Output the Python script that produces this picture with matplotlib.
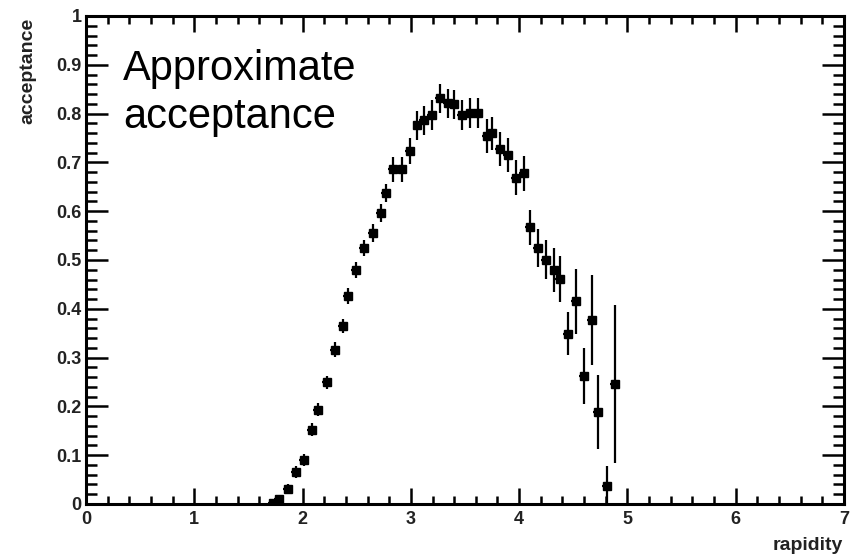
import matplotlib
matplotlib.use("Agg")
import matplotlib.pyplot as plt
from matplotlib.ticker import FixedLocator, MultipleLocator

plt.rcParams['font.family'] = ['Liberation Sans', 'DejaVu Sans']

# Data
rapidity = [1.729, 1.785, 1.868, 1.939, 2.016, 2.084, 2.145, 2.222, 2.299, 2.370,
            2.416, 2.493, 2.570, 2.647, 2.724, 2.770, 2.838, 2.915, 2.995, 3.061,
            3.118, 3.195, 3.269, 3.345, 3.401, 3.472, 3.549, 3.622, 3.706, 3.752,
            3.823, 3.899, 3.970, 4.044, 4.103, 4.171, 4.247, 4.326, 4.374, 4.453,
            4.524, 4.600, 4.672, 4.730, 4.807, 4.884]
acceptance = [0.002, 0.010, 0.030, 0.066, 0.090, 0.152, 0.193, 0.249, 0.316, 0.365,
              0.426, 0.480, 0.525, 0.555, 0.596, 0.637, 0.686, 0.686, 0.723, 0.776,
              0.786, 0.797, 0.831, 0.821, 0.819, 0.797, 0.801, 0.801, 0.754, 0.760,
              0.727, 0.715, 0.669, 0.678, 0.567, 0.525, 0.501, 0.480, 0.461, 0.349,
              0.415, 0.262, 0.377, 0.188, 0.037, 0.246]
acc_err = [0.005, 0.008, 0.010, 0.012, 0.012, 0.013, 0.013, 0.014, 0.015, 0.015,
           0.016, 0.016, 0.017, 0.018, 0.018, 0.019, 0.026, 0.026, 0.026, 0.030,
           0.030, 0.030, 0.029, 0.030, 0.030, 0.030, 0.030, 0.030, 0.034, 0.034,
           0.035, 0.035, 0.036, 0.036, 0.036, 0.039, 0.040, 0.045, 0.047, 0.044,
           0.066, 0.057, 0.092, 0.076, 0.040, 0.162]
bin_halfwidth = 0.045

x_ticks = [0, 1, 2, 3, 4, 5, 6, 7]
x_ticklabels = ["0", "1", "2", "3", "4", "5", "6", "7"]
y_ticks = [0, 0.1, 0.2, 0.3, 0.4, 0.5, 0.6, 0.7, 0.8, 0.9, 1.0]
y_ticklabels = ["0", "0.1", "0.2", "0.3", "0.4", "0.5", "0.6", "0.7", "0.8", "0.9", "1"]

W, H = 856, 557
fig = plt.figure(figsize=(W / 100, H / 100), dpi=100)
x0, x1, ytop, ybot = 86, 844, 16, 504
ax = fig.add_axes([x0 / W, 1 - ybot / H, (x1 - x0) / W, (ybot - ytop) / H])

ax.errorbar(rapidity, acceptance, yerr=acc_err, xerr=bin_halfwidth,
            fmt='s', color='black', ms=6, elinewidth=1.6, capsize=0, zorder=3)

ax.set_xlim(0, 7)
ax.set_ylim(0, 1)

ax.xaxis.set_major_locator(FixedLocator(x_ticks))
ax.set_xticklabels(x_ticklabels)
ax.yaxis.set_major_locator(FixedLocator(y_ticks))
ax.set_yticklabels(y_ticklabels)
ax.xaxis.set_minor_locator(MultipleLocator(0.2))
ax.yaxis.set_minor_locator(MultipleLocator(0.02))

for s in ax.spines.values():
    s.set_linewidth(2.2)

ax.tick_params(axis='x', which='major', direction='in', length=11.5, width=1.8,
               top=True, bottom=True, labelsize=13, pad=5)
ax.tick_params(axis='x', which='minor', direction='in', length=5.8, width=1.8,
               top=True, bottom=True)
ax.tick_params(axis='y', which='major', direction='in', length=15.8, width=1.8,
               left=True, right=True, labelsize=13, pad=3)
ax.tick_params(axis='y', which='minor', direction='in', length=7.9, width=1.8,
               left=True, right=True)
for lab in ax.get_xticklabels() + ax.get_yticklabels():
    lab.set_fontweight('bold')
    lab.set_color('#222222')

fig.text(123 / W, 1 - 80 / H, "Approximate", fontsize=30, va='baseline', ha='left')
fig.text(123 / W, 1 - 128 / H, "acceptance", fontsize=30, va='baseline', ha='left')

fig.text(843 / W, 1 - 546 / H, "rapidity", fontsize=14, fontweight='bold',
         ha='right', va='center', color='#222222')
fig.text(28 / W, 1 - 18 / H, "acceptance", fontsize=14, fontweight='bold',
         rotation=90, ha='center', va='top', color='#222222')

fig.savefig("out.png", dpi=100)
